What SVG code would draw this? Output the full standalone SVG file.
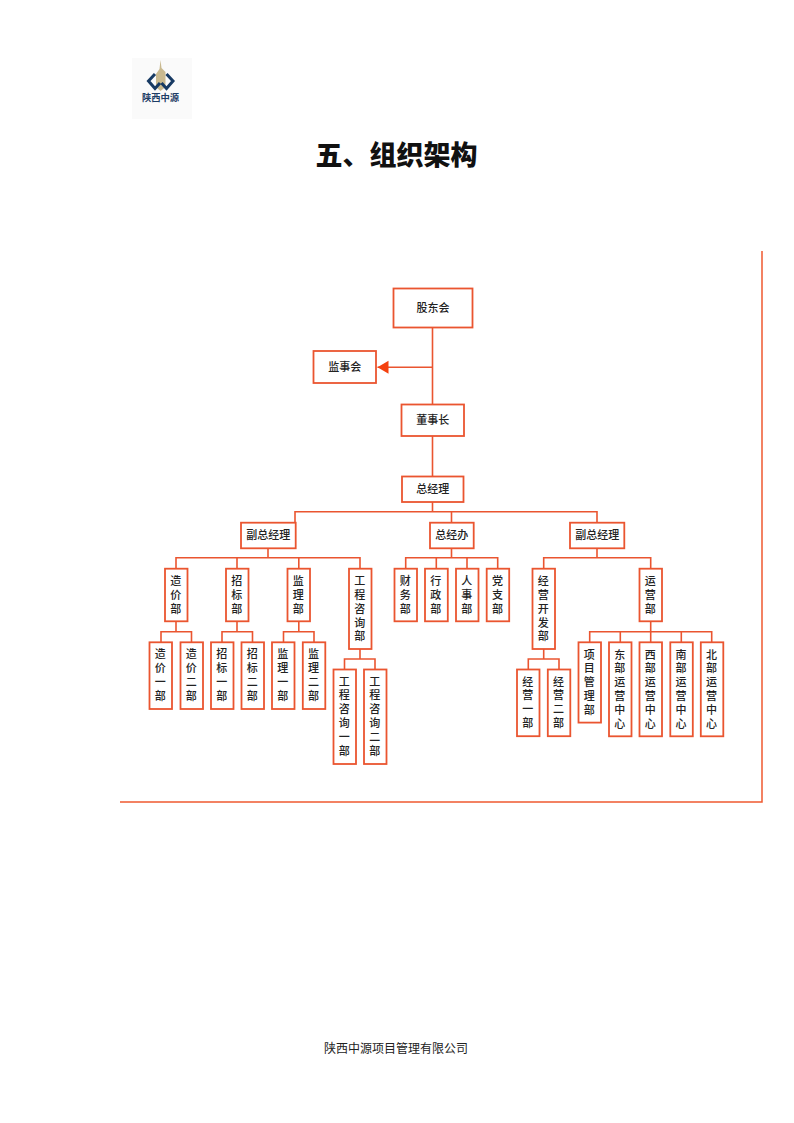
<svg xmlns="http://www.w3.org/2000/svg" width="794" height="1123" viewBox="0 0 794 1123">
<style>
text{font-family:"Noto Sans CJK SC","Noto Sans",sans-serif;fill:#222;font-weight:500}
.b{fill:#fff;stroke:#ea5530;stroke-width:1.8}
.c{fill:none;stroke:#ea5530;stroke-width:1.6}
.h{font-size:11px;text-anchor:middle}
.v{font-size:11px;writing-mode:vertical-rl;text-orientation:upright;letter-spacing:2.8px}
.f{fill:none;stroke:#f05a30;stroke-width:1.5}
</style>
<defs><marker id="arrow" markerUnits="userSpaceOnUse" markerWidth="12" markerHeight="14" refX="11.500" refY="7" orient="auto"><path d="M0.500 0.500L11.500 7L0.500 13.500Z" fill="#f4410f"/></marker></defs>
<g id="logo">
<rect x="132" y="58" width="60" height="61" fill="#fafafa"/>
<path d="M160.500 60L161.500 68L165.500 72V87L160.500 91L156 87V74L159.500 69Z" fill="#c9b98f"/>
<path d="M155 74L148.500 81L155 88.500L160 83" fill="none" stroke="#173a63" stroke-width="3"/>
<path d="M166.500 74L173 81L166.500 88.500L161.500 83" fill="none" stroke="#173a63" stroke-width="3"/>
<text x="160.500" y="100.500" style="font-size:9.300px;font-weight:700;text-anchor:middle;fill:#1d3d66">陕西中源</text>
</g>
<text id="title" x="396.500" y="165" style="font-size:27px;font-weight:900;text-anchor:middle;fill:#111">五、组织架构</text>
<g id="frame"><path class="f" d="M762 251V802H120"/></g>
<g id="connectors">
<path class="c" d="M432.500 327.500V476.500M432.500 502V511.700M295 522.700V511.700H597V522.700M451.500 511.700V522.700"/>
<path class="c" d="M432.500 367.300H377.500" marker-end="url(#arrow)"/>
<path class="c" d="M268 548.300V557.700M176 568.700V557.700H360V568.700M237 557.700V568.700M298.800 557.700V568.700"/>
<path class="c" d="M176 621.300V631.700M161 642.300V631.700H191.500V642.300M237 621.300V631.700M222 642.300V631.700H252.500V642.300M298.800 621.300V631.700M283.500 642.300V631.700H314V642.300"/>
<path class="c" d="M360 649V659M344.500 669.500V659H375V669.500"/>
<path class="c" d="M451.500 548.300V557.700M405.700 568.700V557.700H497.700V568.700M436.300 557.700V568.700M467 557.700V568.700"/>
<path class="c" d="M597 548.300V557.700M543.700 568.700V557.700H650.700V568.700"/>
<path class="c" d="M543.700 649V659M528.300 669.500V659H559V669.500"/>
<path class="c" d="M650.700 621.300V631.700M589.700 642.300V631.700H711.700V642.300M620.300 631.700V642.300M650.700 631.700V642.300M681.300 631.700V642.300"/>
</g>
<g id="n1"><rect class="b" x="393.500" y="288.500" width="79" height="39"/><text class="h" x="433" y="311.500">股东会</text></g>
<g id="n2"><rect class="b" x="313.500" y="351" width="62.500" height="32"/><text class="h" x="344.700" y="370.800">监事会</text></g>
<g id="n3"><rect class="b" x="401.500" y="404.500" width="62.500" height="31.500"/><text class="h" x="432.700" y="424">董事长</text></g>
<g id="n4"><rect class="b" x="402" y="476.500" width="61.500" height="25.500"/><text class="h" x="432.700" y="493">总经理</text></g>
<g id="n5"><rect class="b" x="241" y="522.700" width="54.700" height="25.600"/><text class="h" x="268.300" y="539.300">副总经理</text></g>
<g id="n6"><rect class="b" x="430" y="522.700" width="43.700" height="25.600"/><text class="h" x="451.800" y="539.300">总经办</text></g>
<g id="n7"><rect class="b" x="570" y="522.700" width="54.300" height="25.600"/><text class="h" x="597.200" y="539.300">副总经理</text></g>
<g id="n8"><rect class="b" x="165" y="568.700" width="22.500" height="52.600"/><text class="v" x="175.700" y="575.500">造价部</text></g>
<g id="n9"><rect class="b" x="226" y="568.700" width="22.500" height="52.600"/><text class="v" x="236.700" y="575.500">招标部</text></g>
<g id="n10"><rect class="b" x="287.500" y="568.700" width="22.500" height="52.600"/><text class="v" x="298.300" y="575.500">监理部</text></g>
<g id="n11"><rect class="b" x="349" y="568.700" width="22.500" height="80.300"/><text class="v" x="359.700" y="575.500">工程咨询部</text></g>
<g id="n12"><rect class="b" x="149.500" y="642.300" width="22.500" height="66.700"/><text class="v" x="160.300" y="648.800">造价一部</text></g>
<g id="n13"><rect class="b" x="180.500" y="642.300" width="22.500" height="66.700"/><text class="v" x="191.200" y="648.800">造价二部</text></g>
<g id="n14"><rect class="b" x="211" y="642.300" width="22.500" height="66.700"/><text class="v" x="221.700" y="648.800">招标一部</text></g>
<g id="n15"><rect class="b" x="241.500" y="642.300" width="22.500" height="66.700"/><text class="v" x="252.300" y="648.800">招标二部</text></g>
<g id="n16"><rect class="b" x="272" y="642.300" width="22.500" height="66.700"/><text class="v" x="282.700" y="648.800">监理一部</text></g>
<g id="n17"><rect class="b" x="302.800" y="642.300" width="22.500" height="66.700"/><text class="v" x="313.500" y="648.800">监理二部</text></g>
<g id="n18"><rect class="b" x="333.500" y="669.500" width="22.500" height="94.500"/><text class="v" x="344.200" y="676">工程咨询一部</text></g>
<g id="n19"><rect class="b" x="364" y="669.500" width="22.500" height="94.500"/><text class="v" x="374.700" y="676">工程咨询二部</text></g>
<g id="n20"><rect class="b" x="394.500" y="568.700" width="22.500" height="52.600"/><text class="v" x="405.200" y="575.500">财务部</text></g>
<g id="n21"><rect class="b" x="425" y="568.700" width="22.800" height="52.600"/><text class="v" x="435.800" y="575.500">行政部</text></g>
<g id="n22"><rect class="b" x="456" y="568.700" width="22.500" height="52.600"/><text class="v" x="466.700" y="575.500">人事部</text></g>
<g id="n23"><rect class="b" x="486.700" y="568.700" width="22.500" height="52.600"/><text class="v" x="497.500" y="575.500">党支部</text></g>
<g id="n24"><rect class="b" x="532.500" y="568.700" width="22.500" height="80.300"/><text class="v" x="543.200" y="575.500">经营开发部</text></g>
<g id="n25"><rect class="b" x="517" y="669.500" width="22.500" height="66.700"/><text class="v" x="527.800" y="676">经营一部</text></g>
<g id="n26"><rect class="b" x="547.800" y="669.500" width="22.500" height="66.700"/><text class="v" x="558.500" y="676">经营二部</text></g>
<g id="n27"><rect class="b" x="639.500" y="568.700" width="22.500" height="52.600"/><text class="v" x="650.200" y="575.500">运营部</text></g>
<g id="n28"><rect class="b" x="578.500" y="642.300" width="22.500" height="80.300"/><text class="v" x="589.200" y="649">项目管理部</text></g>
<g id="n29"><rect class="b" x="609" y="642.300" width="22.500" height="94"/><text class="v" x="619.800" y="649">东部运营中心</text></g>
<g id="n30"><rect class="b" x="639.500" y="642.300" width="22.500" height="94"/><text class="v" x="650.200" y="649">西部运营中心</text></g>
<g id="n31"><rect class="b" x="670.300" y="642.300" width="22.500" height="94"/><text class="v" x="681" y="649">南部运营中心</text></g>
<g id="n32"><rect class="b" x="700.800" y="642.300" width="22.500" height="94"/><text class="v" x="711.500" y="649">北部运营中心</text></g>
<text id="footer" x="396" y="1053" style="font-family:'Liberation Serif','Noto Sans CJK SC',serif;font-size:12px;font-weight:400;text-anchor:middle">陕西中源项目管理有限公司</text>
</svg>
